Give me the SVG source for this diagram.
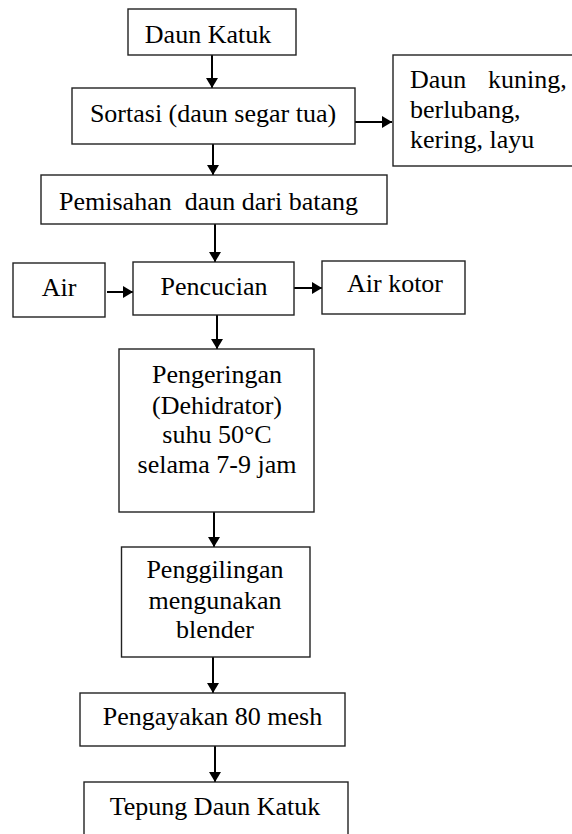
<svg xmlns="http://www.w3.org/2000/svg" width="572" height="834" viewBox="0 0 572 834">
<style>
.box{fill:#fff;stroke:#222;stroke-width:1.4}
.t{font-family:"Liberation Serif","Times New Roman",serif;font-size:26px;fill:#000;text-anchor:middle}
.l{text-anchor:start}
.c{stroke:#000;stroke-width:2;fill:none;marker-end:url(#ah)}
</style>
<defs>
<marker id="ah" viewBox="0 0 10 12" refX="10" refY="6" markerWidth="10" markerHeight="12" markerUnits="userSpaceOnUse" orient="auto">
<path d="M0,0 L10,6 L0,12 z" fill="#000"/>
</marker>
</defs>
<rect width="572" height="834" fill="#fff"/>
<g id="connectors">
<line class="c" x1="212" y1="55" x2="212" y2="88"/>
<line class="c" x1="355" y1="122" x2="392" y2="122"/>
<line class="c" x1="213" y1="144" x2="213" y2="175"/>
<line class="c" x1="215" y1="224" x2="215" y2="262"/>
<line class="c" x1="107" y1="292" x2="133" y2="292"/>
<line class="c" x1="294" y1="288" x2="322" y2="288"/>
<line class="c" x1="217" y1="315" x2="217" y2="349"/>
<line class="c" x1="214" y1="512" x2="214" y2="547"/>
<line class="c" x1="213" y1="657" x2="213" y2="693"/>
<line class="c" x1="215" y1="746" x2="215" y2="782"/>
</g>
<g id="daun-katuk">
<rect class="box" x="128" y="9" width="168" height="46"/>
<text class="t" x="208" y="43">Daun Katuk</text>
</g>
<g id="sortasi">
<rect class="box" x="72" y="88" width="283" height="56"/>
<text class="t" x="213" y="122">Sortasi (daun segar tua)</text>
</g>
<g id="reject">
<rect class="box" x="393" y="55" width="200" height="111"/>
<text class="t l" x="410" y="88">Daun</text>
<text class="t l" x="488" y="88">kuning,</text>
<text class="t l" x="410" y="118">berlubang,</text>
<text class="t l" x="410" y="148">kering, layu</text>
</g>
<g id="pemisahan">
<rect class="box" x="41" y="175" width="346" height="49"/>
<text class="t" x="208.5" y="210" xml:space="preserve">Pemisahan  daun dari batang</text>
</g>
<g id="air">
<rect class="box" x="13" y="263" width="92" height="54"/>
<text class="t" x="59" y="296">Air</text>
</g>
<g id="pencucian">
<rect class="box" x="133" y="262" width="161" height="53"/>
<text class="t" x="214" y="295">Pencucian</text>
</g>
<g id="air-kotor">
<rect class="box" x="322" y="261" width="143" height="53"/>
<text class="t" x="395" y="292">Air kotor</text>
</g>
<g id="pengeringan">
<rect class="box" x="119" y="349" width="195" height="163"/>
<text class="t" x="217" y="383">Pengeringan</text>
<text class="t" x="217" y="414">(Dehidrator)</text>
<text class="t" x="217" y="443">suhu 50°C</text>
<text class="t" x="217" y="473">selama 7-9 jam</text>
</g>
<g id="penggilingan">
<rect class="box" x="121.5" y="547" width="188.5" height="110"/>
<text class="t" x="215" y="578">Penggilingan</text>
<text class="t" x="215" y="609">mengunakan</text>
<text class="t" x="215" y="638">blender</text>
</g>
<g id="pengayakan">
<rect class="box" x="80" y="693" width="265" height="53"/>
<text class="t" x="212.5" y="725">Pengayakan 80 mesh</text>
</g>
<g id="tepung">
<rect class="box" x="84" y="782" width="264" height="70"/>
<text class="t" x="215" y="815">Tepung Daun Katuk</text>
</g>
</svg>
